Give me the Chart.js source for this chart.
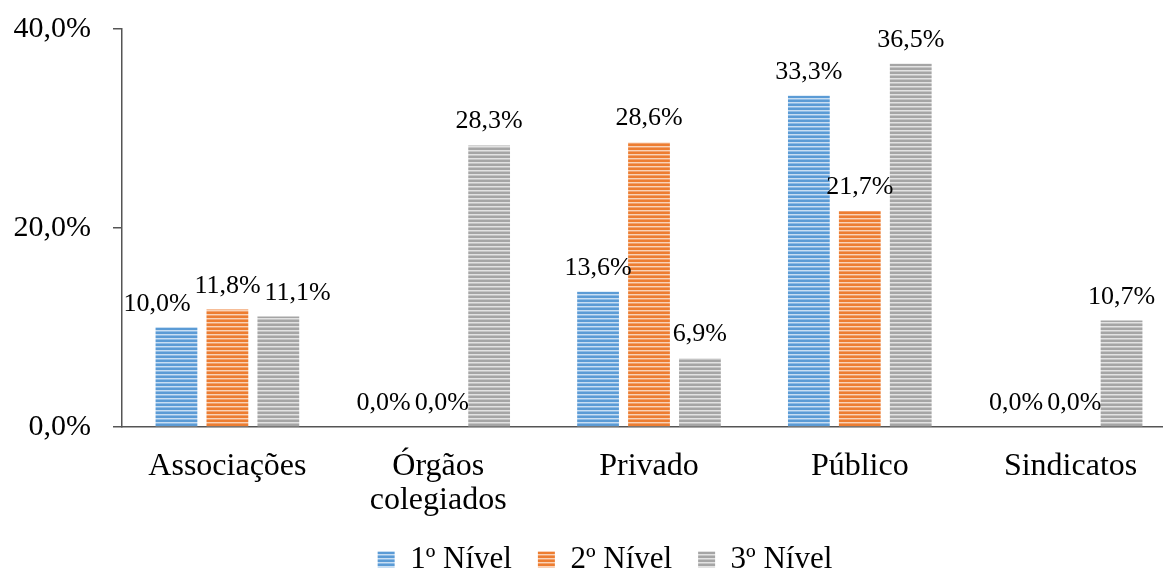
<!DOCTYPE html>
<html>
<head>
<meta charset="utf-8">
<script src="https://cdn.jsdelivr.net/npm/chart.js@4.4.1/dist/chart.umd.min.js"></script>
<style>
  html, body { margin: 0; padding: 0; background: #fff; overflow: hidden; }
  #chart { display: block; }
</style>
</head>
<body>
<canvas id="chart" width="1210" height="585"></canvas>
<script>
const categories = ["Associações", ["Órgãos", "colegiados"], "Privado", "Público", "Sindicatos"];
const seriesNames = ["1º Nível", "2º Nível", "3º Nível"];
const nivel1 = [10.0, 0.0, 13.6, 33.3, 0.0];
const nivel2 = [11.8, 0.0, 28.6, 21.7, 0.0];
const nivel3 = [11.1, 28.3, 6.9, 36.5, 10.7];
const yTicks = [0, 20, 40];

const FONT = '"Liberation Serif", "Times New Roman", serif';

// horizontal striped fill, like the Excel "narrow horizontal" pattern
function stripes(base, light, mid) {
  const c = document.createElement("canvas");
  c.width = 4;
  c.height = 4;
  const g = c.getContext("2d");
  g.fillStyle = base;
  g.fillRect(0, 0, 4, 4);
  g.fillStyle = light;
  g.fillRect(0, 2, 4, 1);
  g.fillStyle = mid;
  g.fillRect(0, 3, 4, 1);
  return g.createPattern(c, "repeat");
}

const fills = [
  stripes("#5b9bd5", "#c9def2", "#8dbbe6"),
  stripes("#ed7d31", "#f9d3b8", "#f2a16b"),
  stripes("#a5a5a5", "#e2e2e2", "#c4c4c4"),
];

const fmt = v => v.toFixed(1).replace(".", ",") + "%";

// value labels above the bars, nudged sideways when neighbours collide
const barLabels = {
  id: "barLabels",
  afterDatasetsDraw(chart) {
    const ctx = chart.ctx;
    ctx.save();
    ctx.font = "26px " + FONT;
    ctx.fillStyle = "#000";
    ctx.textAlign = "center";
    ctx.textBaseline = "alphabetic";
    const n = chart.data.labels.length;
    for (let i = 0; i < n; i++) {
      const items = [];
      chart.data.datasets.forEach((ds, d) => {
        const el = chart.getDatasetMeta(d).data[i];
        const text = fmt(ds.data[i]);
        items.push({ x: el.x, y: el.y - 17, w: ctx.measureText(text).width, text });
      });
      for (let pass = 0; pass < 4; pass++) {
        for (let k = 0; k < items.length - 1; k++) {
          const a = items[k], b = items[k + 1];
          if (Math.abs(a.y - b.y) > 24) continue;
          const need = (a.w + b.w) / 2 + 4 - (b.x - a.x);
          if (need > 0) { a.x -= need / 2; b.x += need / 2; }
        }
      }
      items.forEach(it => ctx.fillText(it.text, it.x, it.y));
    }
    ctx.restore();
  }
};

// centre the legend on the whole canvas rather than on the padded box
const legendShift = {
  id: "legendShift",
  afterLayout(chart) {
    const dx = (chart.width - (chart.legend.left + chart.legend.right)) / 2;
    chart.legend.left += dx;
    chart.legend.right += dx;
  }
};

new Chart(document.getElementById("chart"), {
  type: "bar",
  data: {
    labels: categories,
    datasets: [
      { label: seriesNames[0], data: nivel1, backgroundColor: fills[0] },
      { label: seriesNames[1], data: nivel2, backgroundColor: fills[1] },
      { label: seriesNames[2], data: nivel3, backgroundColor: fills[2] },
    ],
  },
  options: {
    responsive: false,
    animation: false,
    categoryPercentage: 0.725,
    barPercentage: 0.82,
    layout: { padding: { top: 29, right: 34, left: 0, bottom: 0 } },
    plugins: {
      legend: {
        position: "bottom",
        labels: {
          font: { family: FONT, size: 31 },
          color: "#000",
          boxWidth: 17,
          boxHeight: 16,
          padding: 26,
        },
      },
      tooltip: { enabled: false },
    },
    scales: {
      x: {
        grid: { display: false, drawTicks: false },
        border: { color: "#555", width: 1.5 },
        ticks: {
          font: { family: FONT, size: 32, lineHeight: 1.08 },
          color: "#000",
          padding: 22,
          maxRotation: 0,
          autoSkip: false,
        },
        afterFit: s => { s.height = 91; },
      },
      y: {
        min: 0,
        max: 40,
        afterBuildTicks: s => { s.ticks = yTicks.map(v => ({ value: v })); },
        grid: { drawOnChartArea: false, tickLength: 9, color: "#555", lineWidth: 1.5 },
        border: { color: "#555", width: 1.5 },
        ticks: {
          font: { family: FONT, size: 30 },
          color: "#000",
          padding: 22,
          callback: v => fmt(v),
        },
        afterFit: s => {
          s.width = 122;
          s.paddingTop = 0;
          s.paddingBottom = 0;
        },
      },
    },
  },
  plugins: [barLabels, legendShift],
});
</script>
</body>
</html>
